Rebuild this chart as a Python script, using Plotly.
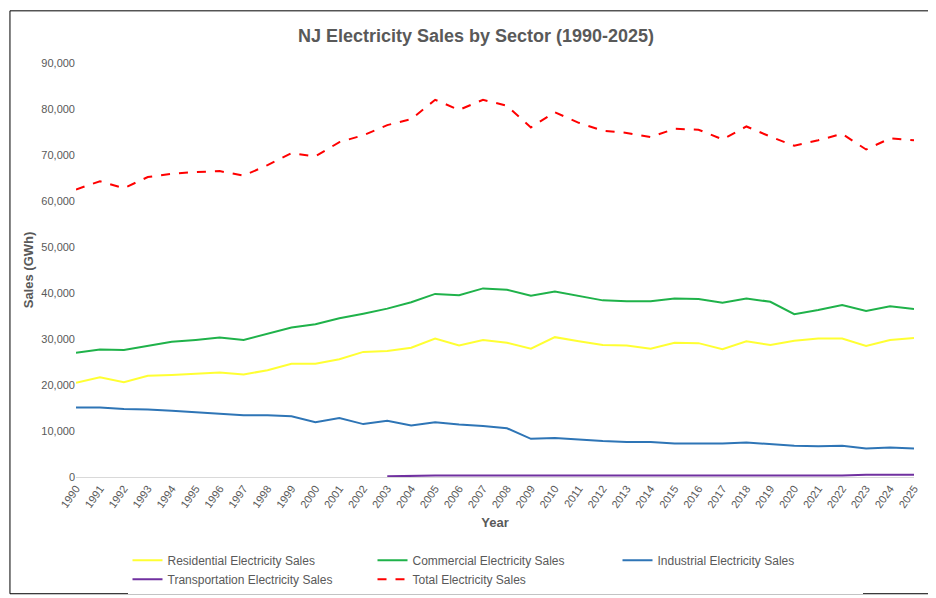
import plotly.graph_objects as go

years = list(range(1990, 2026))
residential = [20500, 21700, 20600, 22000, 22200, 22400, 22700, 22300, 23200, 24600, 24600, 25600,
               27200, 27400, 28100, 30100, 28600, 29800, 29200, 27900, 30400, 29500, 28700, 28600,
               27900, 29200, 29100, 27800, 29500, 28700, 29600, 30100, 30100, 28500, 29800, 30200]
commercial = [27000, 27700, 27600, 28500, 29400, 29800, 30300, 29800, 31200, 32500, 33200, 34500,
              35500, 36600, 38000, 39800, 39500, 41000, 40700, 39400, 40300, 39300, 38400, 38200,
              38200, 38800, 38700, 37900, 38800, 38100, 35400, 36300, 37400, 36100, 37100, 36500]
industrial = [15100, 15100, 14800, 14700, 14400, 14100, 13700, 13400, 13400, 13200, 11900, 12800,
              11500, 12200, 11200, 11900, 11400, 11100, 10600, 8300, 8500, 8100, 7800, 7600,
              7600, 7300, 7300, 7300, 7500, 7100, 6800, 6700, 6800, 6200, 6400, 6200]
transportation = [None] * 13 + [150, 300, 300, 300, 300, 300, 300, 300, 300, 300, 300, 300,
                                300, 300, 300, 300, 300, 300, 300, 300, 500, 500, 500]
total = [62500, 64300, 62800, 65200, 65900, 66300, 66500, 65500, 67800, 70400, 69700, 72800,
         74300, 76500, 77800, 82000, 79800, 82000, 80700, 76000, 79300, 77000, 75300, 74800,
         73900, 75700, 75500, 73400, 76200, 74000, 72000, 73200, 74600, 71200, 73600, 73200]

x = [str(y) for y in years]
fig = go.Figure()
series = [
    ("Residential Electricity Sales", residential, "#ffff33", None),
    ("Commercial Electricity Sales", commercial, "#1fb24a", None),
    ("Industrial Electricity Sales", industrial, "#2e75b6", None),
    ("Transportation Electricity Sales", transportation, "#7030a0", None),
    ("Total Electricity Sales", total, "#ff0000", "dash"),
]
for name, vals, color, dash in series:
    fig.add_trace(go.Scatter(x=x, y=vals, name=name, mode="lines",
                             line=dict(color=color, width=2, dash=dash)))

fig.update_layout(
    width=936, height=598,
    paper_bgcolor="white", plot_bgcolor="white",
    font=dict(family="Liberation Sans, Arial", color="#595959", size=11),
    title=dict(text="<b>NJ Electricity Sales by Sector (1990-2025)</b>", x=0.5, y=0.965,
               font=dict(size=18, color="#595959")),
    margin=dict(l=68, r=30, t=55, b=121),
    legend=dict(orientation="h", x=0.5, xanchor="center", y=-0.166, yanchor="top",
                font=dict(size=12, color="#595959"), entrywidth=200),
    shapes=[dict(type="rect", xref="paper", yref="paper", x0=-0.0788, x1=1.032,
                 y0=-0.282, y1=1.126, line=dict(color="black", width=1))],
)
fig.update_xaxes(title=dict(text="<b>Year</b>", font=dict(size=13, color="#595959"), standoff=8),
                 tickangle=-55, showgrid=False, showline=True, linecolor="#d9d9d9",
                 ticks="", tickfont=dict(size=11))
fig.update_yaxes(title=dict(text="<b>Sales (GWh)</b>", font=dict(size=13, color="#595959"),
                            standoff=4),
                 range=[0, 90000], dtick=10000, tickformat=",", showgrid=False,
                 zeroline=False, tickfont=dict(size=11))
fig.write_html("out.html")
